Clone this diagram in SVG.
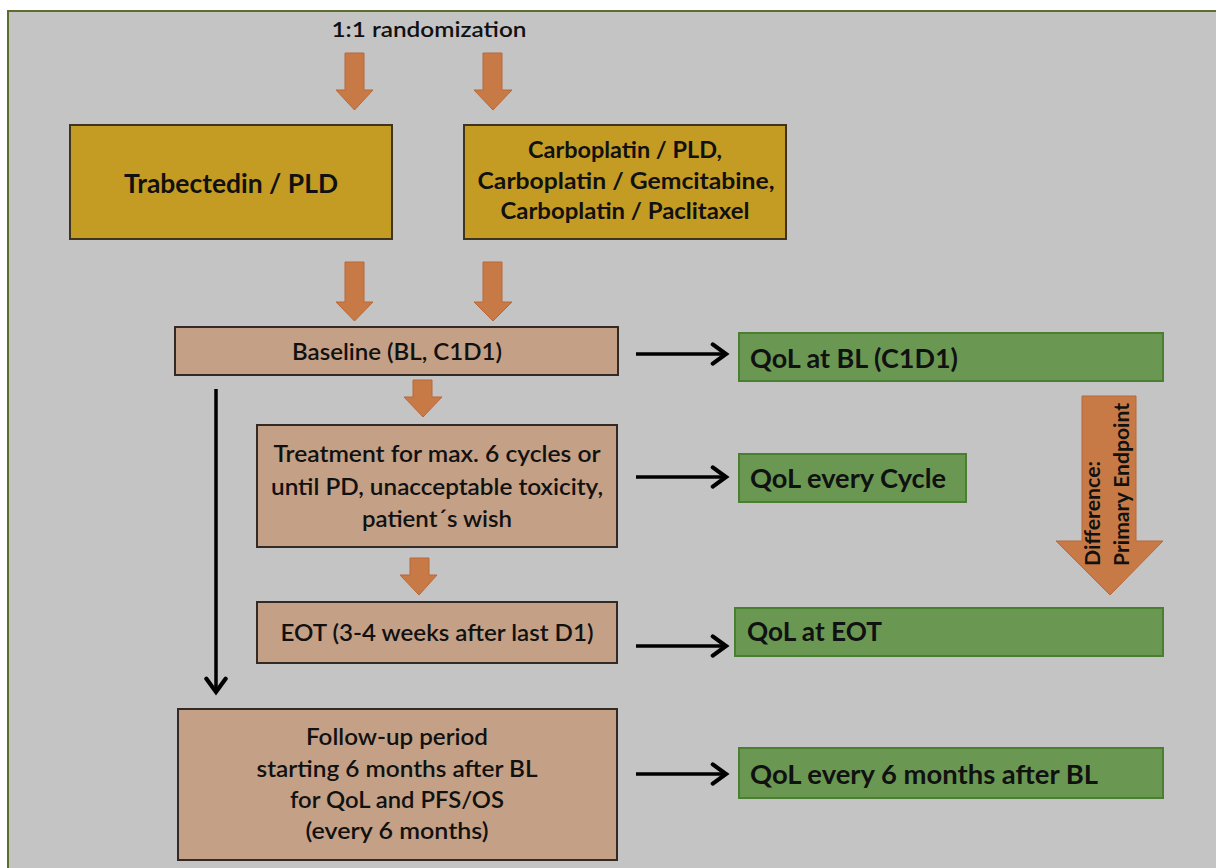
<svg xmlns="http://www.w3.org/2000/svg" width="1216" height="868" viewBox="0 0 1216 868">
<defs>
<style>
.t{font-family:Lato,"Open Sans","Liberation Sans",sans-serif;fill:#111}
.b{font-weight:700}
.s{font-weight:600}
.gold{fill:#c49c24;stroke:#3e3420;stroke-width:2}
.tan{fill:#c4a086;stroke:#332a26;stroke-width:2}
.grn{fill:#6a9852;stroke:#4a7f32;stroke-width:2}
.oar{fill:#c87a46;stroke:#b8683a;stroke-width:1}
.blk{fill:none;stroke:#000;stroke-width:3.5}
</style>
<marker id="ah" markerUnits="userSpaceOnUse" markerWidth="24" markerHeight="24" viewBox="-14 -10 16 20" refX="0" refY="0" orient="auto">
<path d="M-11,-8 L0,0 L-11,8" fill="none" stroke="#000" stroke-width="3.5" stroke-linecap="round"/>
</marker>
</defs>
<rect x="0" y="0" width="1216" height="868" fill="#ffffff"/>
<rect x="8" y="11" width="1220" height="870" fill="#c4c4c4" stroke="#5d6d2e" stroke-width="2"/>

<g id="label-randomization">
<text class="t s" x="429" y="37" font-size="21" text-anchor="middle" textLength="195" lengthAdjust="spacingAndGlyphs">1:1 randomization</text>
</g>

<g id="orange-arrows">
<polygon class="oar" points="345,53 364,53 364,90 373,90 354.5,110 336,90 345,90"/>
<polygon class="oar" points="483,53 502,53 502,90 512,90 493,110 474,90 483,90"/>
<polygon class="oar" points="345,262 364,262 364,302 373,302 354.5,321 336,302 345,302"/>
<polygon class="oar" points="483,262 502,262 502,302 512,302 493,321 474,302 483,302"/>
<polygon class="oar" points="413,380 432,380 432,397 442,397 423,417 404,397 413,397"/>
<polygon class="oar" points="410,558 429,558 429,575 437,575 419,595 400,575 410,575"/>
</g>

<g id="node-trabectedin">
<rect class="gold" x="70" y="125" width="322" height="114"/>
<text class="t b" x="231" y="193" font-size="26" text-anchor="middle" textLength="214" lengthAdjust="spacingAndGlyphs">Trabectedin / PLD</text>
</g>

<g id="node-carboplatin">
<rect class="gold" x="464" y="125" width="322" height="114"/>
<text class="t b" x="625" y="158" font-size="23" text-anchor="middle" textLength="194" lengthAdjust="spacingAndGlyphs">Carboplatin / PLD,</text>
<text class="t b" x="626" y="189" font-size="23" text-anchor="middle" textLength="297" lengthAdjust="spacingAndGlyphs">Carboplatin / Gemcitabine,</text>
<text class="t b" x="625" y="219" font-size="23" text-anchor="middle" textLength="249" lengthAdjust="spacingAndGlyphs">Carboplatin / Paclitaxel</text>
</g>

<g id="node-baseline">
<rect class="tan" x="175" y="327" width="443" height="48"/>
<text class="t s" x="397" y="360" font-size="22" text-anchor="middle" textLength="210" lengthAdjust="spacingAndGlyphs">Baseline (BL, C1D1)</text>
</g>

<g id="node-treatment">
<rect class="tan" x="257" y="425" width="360" height="122"/>
<text class="t s" x="437" y="462" font-size="22" text-anchor="middle" textLength="327" lengthAdjust="spacingAndGlyphs">Treatment for max. 6 cycles or</text>
<text class="t s" x="437" y="495" font-size="22" text-anchor="middle" textLength="332" lengthAdjust="spacingAndGlyphs">until PD, unacceptable toxicity,</text>
<text class="t s" x="437" y="527" font-size="22" text-anchor="middle" textLength="150" lengthAdjust="spacingAndGlyphs">patient´s wish</text>
</g>

<g id="node-eot">
<rect class="tan" x="257" y="602" width="360" height="61"/>
<text class="t s" x="437" y="641" font-size="22" text-anchor="middle" textLength="313" lengthAdjust="spacingAndGlyphs">EOT (3-4 weeks after last D1)</text>
</g>

<g id="node-followup">
<rect class="tan" x="178" y="709" width="439" height="151"/>
<text class="t s" x="397" y="745" font-size="22" text-anchor="middle" textLength="182" lengthAdjust="spacingAndGlyphs">Follow-up period</text>
<text class="t s" x="397" y="777" font-size="22" text-anchor="middle" textLength="281" lengthAdjust="spacingAndGlyphs">starting 6 months after BL</text>
<text class="t s" x="397" y="808" font-size="22" text-anchor="middle" textLength="214" lengthAdjust="spacingAndGlyphs">for QoL and PFS/OS</text>
<text class="t s" x="397" y="839" font-size="22" text-anchor="middle" textLength="183" lengthAdjust="spacingAndGlyphs">(every 6 months)</text>
</g>

<g id="node-qol-bl">
<rect class="grn" x="739" y="333" width="424" height="48"/>
<text class="t b" x="750" y="368" font-size="26" textLength="208" lengthAdjust="spacingAndGlyphs">QoL at BL (C1D1)</text>
</g>

<g id="node-qol-cycle">
<rect class="grn" x="739" y="454" width="227" height="48"/>
<text class="t b" x="750" y="488" font-size="26" textLength="196" lengthAdjust="spacingAndGlyphs">QoL every Cycle</text>
</g>

<g id="node-qol-eot">
<rect class="grn" x="735" y="608" width="428" height="48"/>
<text class="t b" x="747" y="641" font-size="26" textLength="135" lengthAdjust="spacingAndGlyphs">QoL at EOT</text>
</g>

<g id="node-qol-6m">
<rect class="grn" x="739" y="748" width="424" height="50"/>
<text class="t b" x="750" y="784" font-size="26" textLength="348" lengthAdjust="spacingAndGlyphs">QoL every 6 months after BL</text>
</g>

<g id="node-primary-endpoint">
<polygon class="oar" points="1082,396 1136,396 1136,541 1163,541 1110,595 1056,541 1082,541"/>
<text class="t b" transform="translate(1100,566) rotate(-90)" font-size="20" textLength="105" lengthAdjust="spacingAndGlyphs">Difference:</text>
<text class="t b" transform="translate(1129,566) rotate(-90)" font-size="20" textLength="163" lengthAdjust="spacingAndGlyphs">Primary Endpoint</text>
</g>

<g id="connectors">
<path class="blk" d="M636,354 H726" marker-end="url(#ah)"/>
<path class="blk" d="M636,477 H726" marker-end="url(#ah)"/>
<path class="blk" d="M636,646 H726" marker-end="url(#ah)"/>
<path class="blk" d="M636,774 H726" marker-end="url(#ah)"/>
<path class="blk" d="M216,389 V692" marker-end="url(#ah)"/>
</g>
</svg>
